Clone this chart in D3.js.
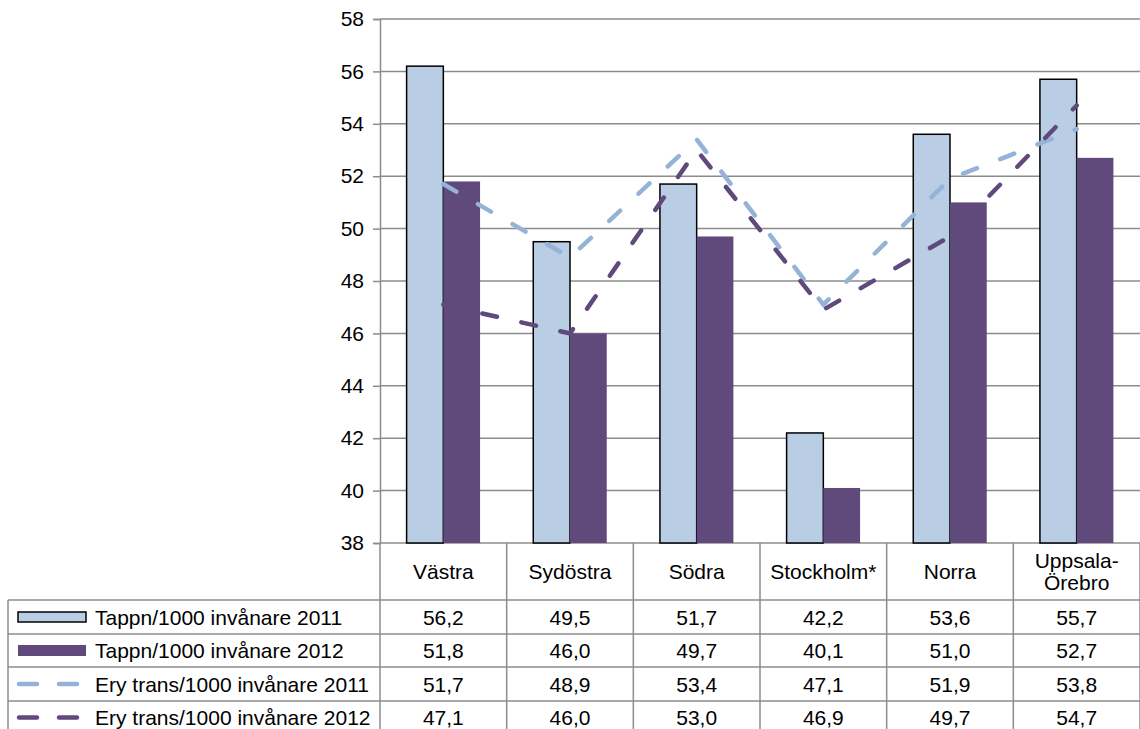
<!DOCTYPE html>
<html>
<head>
<meta charset="utf-8">
<script src="https://cdn.jsdelivr.net/npm/d3@7"></script>
<style>
  html, body { margin: 0; padding: 0; background: #fff; }
  svg text { font-family: "Liberation Sans", Arial, sans-serif; fill: #000; }
</style>
</head>
<body>
<svg id="chart" width="1140" height="729"></svg>
<script>
// Regions (columns of the chart and the data table)
const categories = ["Västra", "Sydöstra", "Södra", "Stockholm*", "Norra", "Uppsala-\nÖrebro"];

// Blood donations per 1000 inhabitants (bars)
const tappn2011 = [56.2, 49.5, 51.7, 42.2, 53.6, 55.7];
const tappn2012 = [51.8, 46.0, 49.7, 40.1, 51.0, 52.7];

// Erythrocyte transfusions per 1000 inhabitants (dashed lines)
const ery2011 = [51.7, 48.9, 53.4, 47.1, 51.9, 53.8];
const ery2012 = [47.1, 46.0, 53.0, 46.9, 49.7, 54.7];

const seriesNames = [
  "Tappn/1000 invånare 2011",
  "Tappn/1000 invånare 2012",
  "Ery trans/1000 invånare 2011",
  "Ery trans/1000 invånare 2012"
];

const yTicks = [38, 40, 42, 44, 46, 48, 50, 52, 54, 56, 58];

const colors = {
  bar2011: "#b9cde5",
  bar2012: "#604a7b",
  line2011: "#95b3d7",
  line2012: "#5f4a7b",
  grid: "#8c8c8c"
};

const svg = d3.select("#chart");
const plot = { left: 380, right: 1140, top: 19, bottom: 543 };
const tableLeft = 8;
const rowLines = [600, 634, 667, 701, 734];

const x = d3.scaleBand().domain(categories).range([plot.left, plot.right]).padding(0);
const bw = x.bandwidth();
const gap = bw * 0.21;
const x1 = d3.scaleBand().domain(["a", "b"]).range([gap, bw - gap]).padding(0);
const y = d3.scaleLinear().domain([38, 58]).range([plot.bottom, plot.top]);

// Horizontal gridlines
svg.append("g")
  .selectAll("line")
  .data(yTicks)
  .join("line")
  .attr("x1", plot.left).attr("x2", plot.right)
  .attr("y1", d => y(d)).attr("y2", d => y(d))
  .attr("stroke", colors.grid).attr("stroke-width", 1.5);

// Y axis
const yAxis = svg.append("g")
  .attr("transform", `translate(${plot.left},0)`)
  .call(d3.axisLeft(y).tickValues(yTicks).tickSize(7).tickPadding(9).tickFormat(d3.format("d")));
yAxis.select(".domain").attr("stroke", colors.grid).attr("stroke-width", 1.5);
yAxis.selectAll(".tick line").attr("stroke", colors.grid).attr("stroke-width", 1.5);
yAxis.selectAll(".tick text").style("font-size", "21px").attr("fill", "#000");

// Bars
const bars = svg.append("g");
bars.selectAll("rect.b2011")
  .data(tappn2011)
  .join("rect")
  .attr("class", "b2011")
  .attr("x", (d, i) => x(categories[i]) + x1("a"))
  .attr("width", x1.bandwidth())
  .attr("y", d => y(d))
  .attr("height", d => y(38) - y(d))
  .attr("fill", colors.bar2011)
  .attr("stroke", "#000").attr("stroke-width", 1.5);

bars.selectAll("rect.b2012")
  .data(tappn2012)
  .join("rect")
  .attr("class", "b2012")
  .attr("x", (d, i) => x(categories[i]) + x1("b"))
  .attr("width", x1.bandwidth())
  .attr("y", d => y(d))
  .attr("height", d => y(38) - y(d))
  .attr("fill", colors.bar2012);

// Dashed lines
const line = d3.line()
  .x((d, i) => x(categories[i]) + bw / 2)
  .y(d => y(d));

[[ery2011, colors.line2011], [ery2012, colors.line2012]].forEach(([vals, c]) => {
  svg.append("path")
    .datum(vals)
    .attr("d", line)
    .attr("fill", "none")
    .attr("stroke", c)
    .attr("stroke-width", 4.5)
    .attr("stroke-linecap", "round")
    .attr("stroke-dasharray", "15 25");
});

// Data table
const table = svg.append("g");
const tableStroke = "#8c8c8c";

// Horizontal rules
rowLines.forEach(yy => {
  table.append("line")
    .attr("x1", tableLeft).attr("x2", plot.right)
    .attr("y1", yy).attr("y2", yy)
    .attr("stroke", tableStroke).attr("stroke-width", 1.5);
});
// Left border of the legend column
table.append("line")
  .attr("x1", tableLeft).attr("x2", tableLeft)
  .attr("y1", rowLines[0]).attr("y2", rowLines[rowLines.length - 1])
  .attr("stroke", tableStroke).attr("stroke-width", 1.5);
// Column dividers
const dividers = categories.map(c => x(c)).concat([plot.right]);
dividers.forEach(xx => {
  table.append("line")
    .attr("x1", xx).attr("x2", xx)
    .attr("y1", plot.bottom).attr("y2", rowLines[rowLines.length - 1])
    .attr("stroke", tableStroke).attr("stroke-width", 1.5);
});

// Category header labels
categories.forEach(c => {
  const parts = c.split("\n");
  const cx = x(c) + bw / 2;
  const cy = (plot.bottom + rowLines[0]) / 2;
  const lh = 22;
  parts.forEach((p, k) => {
    table.append("text")
      .attr("x", cx)
      .attr("y", cy + (k - (parts.length - 1) / 2) * lh)
      .attr("text-anchor", "middle")
      .attr("dominant-baseline", "central")
      .style("font-size", "21px")
      .text(p);
  });
});

// Rows: legend key + values
const rows = [tappn2011, tappn2012, ery2011, ery2012];
const fmt = v => d3.format(".1f")(v).replace(".", ",");
rows.forEach((vals, r) => {
  const cy = (rowLines[r] + rowLines[r + 1]) / 2;
  if (r === 0) {
    table.append("rect").attr("x", 18).attr("y", cy - 5).attr("width", 68).attr("height", 10)
      .attr("fill", colors.bar2011).attr("stroke", "#000").attr("stroke-width", 1.5);
  } else if (r === 1) {
    table.append("rect").attr("x", 18).attr("y", cy - 5.5).attr("width", 68).attr("height", 11)
      .attr("fill", colors.bar2012);
  } else {
    const c = r === 2 ? colors.line2011 : colors.line2012;
    [[19, 37], [59, 77]].forEach(([a, b]) => {
      table.append("line").attr("x1", a).attr("x2", b).attr("y1", cy).attr("y2", cy)
        .attr("stroke", c).attr("stroke-width", 4.5).attr("stroke-linecap", "round");
    });
  }
  table.append("text")
    .attr("x", 95).attr("y", cy)
    .attr("dominant-baseline", "central")
    .style("font-size", "21px")
    .text(seriesNames[r]);

  vals.forEach((v, i) => {
    table.append("text")
      .attr("x", x(categories[i]) + bw / 2)
      .attr("y", cy)
      .attr("text-anchor", "middle")
      .attr("dominant-baseline", "central")
      .style("font-size", "21px")
      .text(fmt(v));
  });
});
</script>
</body>
</html>
